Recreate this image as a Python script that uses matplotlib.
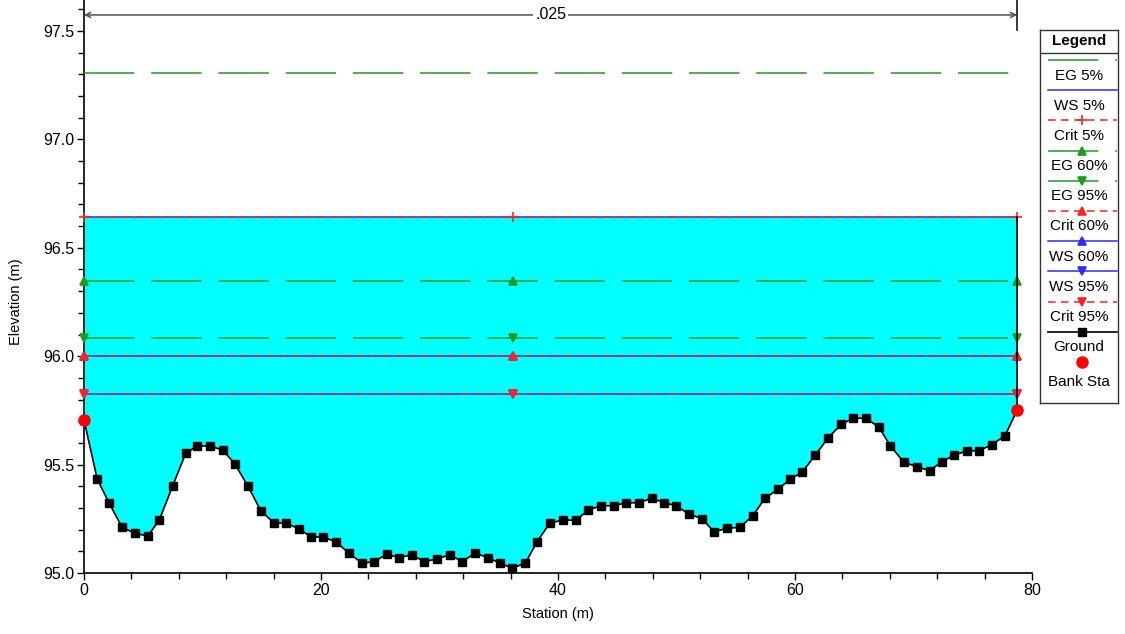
import matplotlib
matplotlib.use("Agg")
import matplotlib.pyplot as plt
from matplotlib.ticker import MultipleLocator
import numpy as np

plt.rcParams['font.family'] = ['Liberation Sans', 'DejaVu Sans']

# ---------------- data ----------------
station = [0.0, 1.12, 2.11, 3.21, 4.30, 5.38, 6.35, 7.49, 8.58, 9.54, 10.66, 11.73,
           12.72, 13.81, 14.94, 16.03, 17.02, 18.12, 19.18, 20.19, 21.24, 22.36,
           23.46, 24.45, 25.54, 26.61, 27.65, 28.72, 29.81, 30.91, 31.90, 33.00,
           34.09, 35.11, 36.14, 37.24, 38.23, 39.32, 40.45, 41.54, 42.56, 43.63,
           44.73, 45.71, 46.81, 47.91, 48.97, 49.98, 51.08, 52.18, 53.16, 54.26,
           55.36, 56.43, 57.47, 58.54, 59.60, 60.62, 61.71, 62.81, 63.91, 64.92,
           65.99, 67.09, 68.04, 69.17, 70.27, 71.36, 72.37, 73.44, 74.54, 75.53,
           76.60, 77.72, 78.75]
ground = [95.706, 95.432, 95.324, 95.211, 95.183, 95.171, 95.244, 95.403, 95.552,
          95.586, 95.586, 95.566, 95.504, 95.403, 95.286, 95.231, 95.231, 95.204,
          95.166, 95.166, 95.144, 95.092, 95.045, 95.052, 95.086, 95.071, 95.084,
          95.052, 95.066, 95.084, 95.052, 95.092, 95.071, 95.045, 95.023, 95.045,
          95.144, 95.231, 95.244, 95.244, 95.291, 95.310, 95.310, 95.324, 95.324,
          95.345, 95.324, 95.310, 95.271, 95.250, 95.190, 95.206, 95.211, 95.264,
          95.345, 95.386, 95.432, 95.466, 95.544, 95.624, 95.687, 95.714, 95.714,
          95.672, 95.587, 95.512, 95.490, 95.472, 95.512, 95.544, 95.564, 95.564,
          95.592, 95.633, 95.752]
bank_station = [0.0, 78.75]
bank_elev = [95.706, 95.752]

# profile lines: (label, elevation)
profile_labels = ["EG 5%", "WS 5%", "Crit 5%", "EG 60%", "EG 95%",
                  "Crit 60%", "WS 60%", "WS 95%", "Crit 95%"]
profile_elev = [97.306, 96.642, 96.642, 96.347, 96.084,
                95.999, 95.999, 95.826, 95.826]
marker_stations = [0.0, 36.2, 78.75]
n_value_label = ".025"
n_value_elev = 97.574

x_ticks = [0, 20, 40, 60, 80]
y_ticks = [95.0, 95.5, 96.0, 96.5, 97.0, 97.5]

# ---------------- styles ----------------
GREEN = '#1f9a1f'
BLUE = '#2a2aff'
RED = '#ff2020'
green_dash = (0, (33, 11))
red_dash = (0, (5, 3.5))
styles = {
    "EG 5%":   dict(color=GREEN, ls=green_dash, marker=None, z=3),
    "WS 5%":   dict(color=BLUE, ls='-', marker=None, z=3),
    "Crit 5%": dict(color=RED, ls=red_dash, marker='+', z=4),
    "EG 60%":  dict(color=GREEN, ls=green_dash, marker='^', z=3),
    "EG 95%":  dict(color=GREEN, ls=green_dash, marker='v', z=3),
    "Crit 60%": dict(color=RED, ls=red_dash, marker='^', z=4),
    "WS 60%":  dict(color=BLUE, ls='-', marker='^', z=3),
    "WS 95%":  dict(color=BLUE, ls='-', marker='v', z=3),
    "Crit 95%": dict(color=RED, ls=red_dash, marker='v', z=4),
}

W, H = 1125, 634
fig = plt.figure(figsize=(W / 100, H / 100), dpi=100)
ax = fig.add_axes([84 / W, (H - 573) / H, (1032 - 84) / W, 573 / H])

ax.set_xlim(0, 80)
ax.set_ylim(95.0, 97.643)

st = np.array(station)
gr = np.array(ground)
ws_top = profile_elev[profile_labels.index("WS 5%")]

# water fill
ax.fill_between(st, gr, ws_top, where=gr <= ws_top, color='#00ffff', lw=0, zorder=1)

# end wall up to water surface
ax.plot([st[-1], st[-1]], [gr[-1], ws_top], color='black', lw=1.2, zorder=5)

# profile lines
for lab, el in zip(profile_labels, profile_elev):
    s = styles[lab]
    ax.plot([marker_stations[0], marker_stations[-1]], [el, el], color=s['color'],
            ls=s['ls'], lw=1.1, zorder=s['z'])
    if s['marker']:
        ms = 7 if s['marker'] == '+' else 6
        ax.plot(marker_stations, [el] * len(marker_stations), ls='none',
                marker=s['marker'], color=s['color'], ms=ms, mew=1.2,
                zorder=s['z'] + 0.5, clip_on=False)

# ground
ax.plot(st, gr, color='black', lw=1.2, marker='s', ms=5.5, zorder=6, clip_on=False)
ax.plot(bank_station, bank_elev, ls='none', marker='o', color='#ff0000', ms=8,
        zorder=7, clip_on=False)

# n-value annotation
ax.annotate('', xy=(station[0], n_value_elev), xytext=(station[-1], n_value_elev),
            arrowprops=dict(arrowstyle='<->', color='#505050', lw=1.1,
                            shrinkA=0, shrinkB=0, mutation_scale=9), zorder=5)
ax.plot([station[-1], station[-1]], [97.505, 97.643], color='black', lw=1.1,
        zorder=5, clip_on=False)
ax.text((station[0] + station[-1]) / 2, n_value_elev, n_value_label, ha='center',
        va='center', fontsize=11.5,
        bbox=dict(facecolor='white', edgecolor='none', pad=1.5), zorder=6)

# axes styling
for sp in ['top', 'right']:
    ax.spines[sp].set_visible(False)
for sp in ['left', 'bottom']:
    ax.spines[sp].set_linewidth(1.2)
ax.set_xticks(x_ticks)
ax.set_yticks(y_ticks)
ax.yaxis.set_major_formatter(plt.FuncFormatter(lambda v, p: f"{v:.1f}"))
ax.xaxis.set_minor_locator(MultipleLocator(4))
ax.yaxis.set_minor_locator(MultipleLocator(0.1))
ax.tick_params(which='major', direction='out', length=5, width=1, labelsize=11.5,
               pad=2)
ax.tick_params(which='minor', direction='out', length=4, width=1)
ax.set_xlabel("Station (m)", fontsize=10.5, labelpad=7)
ax.set_ylabel("Elevation (m)", fontsize=10.5)
ax.yaxis.set_label_coords(-0.064, 0.473)

# ---------------- legend (manual, HEC-RAS style) ----------------
lx0, ly0, lw_, lh = 1040, 30, 78, 373
lax = fig.add_axes([lx0 / W, (H - ly0 - lh) / H, lw_ / W, lh / H])
lax.set_xlim(0, lw_)
lax.set_ylim(lh, 0)
lax.set_xticks([])
lax.set_yticks([])
for sp in lax.spines.values():
    sp.set_linewidth(1.0)
    sp.set_color('#333333')
lax.text(lw_ / 2, 11.5, "Legend", ha='center', va='center', fontsize=11,
         fontweight='bold')
lax.plot([0, lw_], [23, 23], color='#333333', lw=1.0)

entries = profile_labels + ["Ground", "Bank Sta"]
for i, lab in enumerate(entries):
    sy = 30 + 30.2 * i
    ty = sy + 15.5
    if lab in styles:
        s = styles[lab]
        lax.plot([8, 77], [sy, sy], color=s['color'], ls=s['ls'], lw=1.1)
        if s['marker']:
            ms = 7 if s['marker'] == '+' else 6
            lax.plot([42], [sy], marker=s['marker'], color=s['color'], ms=ms,
                     mew=1.2, ls='none')
    elif lab == "Ground":
        lax.plot([8, 77], [sy, sy], color='black', lw=1.2)
        lax.plot([42], [sy], marker='s', color='black', ms=5.5, ls='none')
    else:
        sy = 332
        ty = 352
        lax.plot([42], [sy], marker='o', color='#ff0000', ms=8, ls='none')
    lax.text(lw_ / 2, ty, lab, ha='center', va='center', fontsize=11)

fig.savefig("out.png", dpi=100)
